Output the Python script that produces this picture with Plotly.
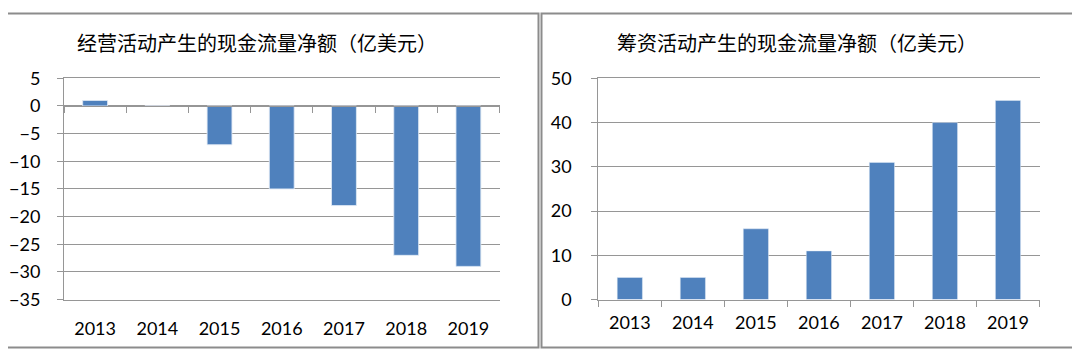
import plotly.graph_objects as go

years = ["2013", "2014", "2015", "2016", "2017", "2018", "2019"]
operating_cf = [1, 0, -7, -15, -18, -27, -29]
financing_cf = [5, 5, 16, 11, 31, 40, 45]
title_left = "经营活动产生的现金流量净额（亿美元）"
title_right = "筹资活动产生的现金流量净额（亿美元）"

# page is 1080x360 with the browser's 8px body margin, so the figure is 1064x344
W, H = 1064, 344
OFF = 8  # page offset of the figure


def px(x):
    return (x - OFF) / W


def py(y):
    return 1 - (y - OFF) / H


BAR = "#4F81BD"
GRID = "#969696"
BORDER = "#8c8c8c"
TICKFONT = dict(family="Lato, Open Sans, sans-serif", size=18, color="#000000")
TITLEFONT = dict(family="Noto Sans CJK SC, sans-serif", size=20, color="#000000")

ydom = [py(306.7), py(70.3)]
lx = [px(64), px(499.5)]
rx = [px(598.3), px(1039.5)]

fig = go.Figure()
fig.add_trace(go.Bar(x=years, y=operating_cf, marker_color=BAR, xaxis="x", yaxis="y", hoverinfo="x+y"))
# invisible trace driving the zero-line axis with boundary ticks
fig.add_trace(go.Bar(x=years, y=operating_cf, marker_color="rgba(0,0,0,0)", xaxis="x3", yaxis="y", hoverinfo="skip"))
fig.add_trace(go.Bar(x=years, y=financing_cf, marker_color=BAR, xaxis="x2", yaxis="y2", hoverinfo="x+y"))

lmin, lmax = -35, 5
zero_pos = ydom[0] + (0 - lmin) / (lmax - lmin) * (ydom[1] - ydom[0])

common_x = dict(type="category", showgrid=False, linecolor=GRID, linewidth=1, tickfont=TICKFONT, fixedrange=True)
common_y = dict(showgrid=True, gridcolor=GRID, gridwidth=1, showline=True, linecolor=GRID, linewidth=1,
                ticks="outside", ticklen=6, tickcolor=GRID, tickfont=TICKFONT, zeroline=False, fixedrange=True)

fig.update_layout(
    width=W, height=H,
    margin=dict(l=0, r=0, t=0, b=0),
    paper_bgcolor="white", plot_bgcolor="white",
    showlegend=False,
    bargap=0.6,
    xaxis=dict(domain=lx, anchor="y", showline=True, mirror=True, ticks="", ticklabelstandoff=13, **common_x),
    xaxis3=dict(domain=lx, overlaying="x", anchor="free", position=zero_pos, showline=True,
                ticks="outside", tickson="boundaries", ticklen=6, tickcolor=GRID,
                showticklabels=False, **{k: v for k, v in common_x.items() if k != "tickfont"}),
    yaxis=dict(domain=ydom, anchor="x", range=[lmin, lmax], dtick=5, tick0=0, ticklabelstandoff=13, **common_y),
    xaxis2=dict(domain=rx, anchor="y2", showline=True, mirror=True, ticks="outside", tickson="boundaries",
                ticklen=6, tickcolor=GRID, ticklabelstandoff=7, **common_x),
    yaxis2=dict(domain=ydom, anchor="x2", range=[0, 50], dtick=10, ticklabelstandoff=16, **common_y),
    annotations=[
        dict(text=title_left, x=px(257), y=py(32), xref="paper", yref="paper",
             xanchor="center", yanchor="middle", showarrow=False, font=TITLEFONT),
        dict(text=title_right, x=px(797), y=py(32), xref="paper", yref="paper",
             xanchor="center", yanchor="middle", showarrow=False, font=TITLEFONT),
    ],
    shapes=[
        dict(type="rect", xref="paper", yref="paper", x0=px(1), x1=px(538.5), y0=py(358), y1=py(1),
             line=dict(color=BORDER, width=2), layer="above"),
        dict(type="rect", xref="paper", yref="paper", x0=px(541.5), x1=px(1077), y0=py(358), y1=py(1),
             line=dict(color=BORDER, width=2), layer="above"),
    ],
)

fig.write_html("out.html", config={"displayModeBar": False})
